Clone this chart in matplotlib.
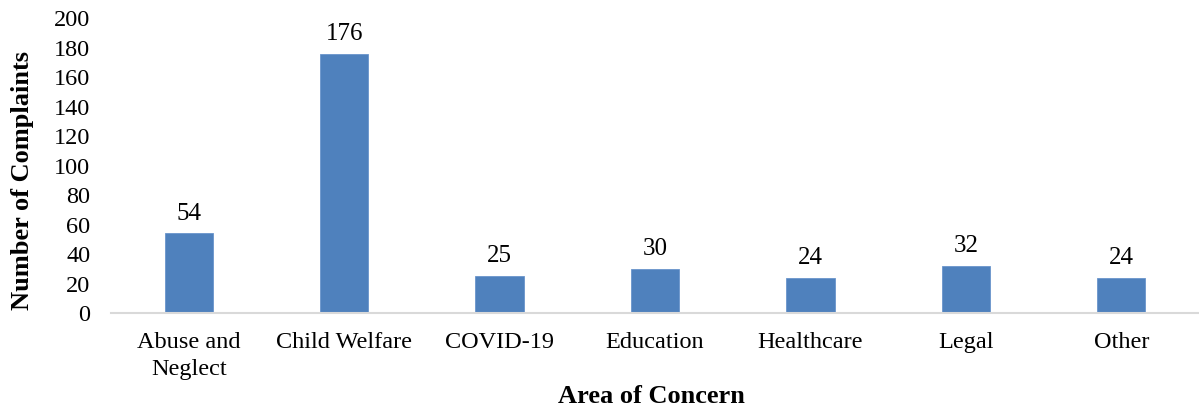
import matplotlib
matplotlib.use("Agg")
import matplotlib.pyplot as plt

categories = ["Abuse and\nNeglect", "Child Welfare", "COVID-19", "Education",
              "Healthcare", "Legal", "Other"]
complaints = [54, 176, 25, 30, 24, 32, 24]
y_ticks = [0, 20, 40, 60, 80, 100, 120, 140, 160, 180, 200]

plt.rcParams["font.family"] = ["Liberation Serif", "DejaVu Serif"]

fig = plt.figure(figsize=(11.99, 4.13), dpi=100)
ax = fig.add_axes([0.0926, 0.242, 0.9074, 0.714])

x = range(len(categories))
bars = ax.bar(x, complaints, width=0.31, color="#4F81BD", edgecolor="#6A95CC", linewidth=0.6, zorder=2)
for b, v in zip(bars, complaints):
    ax.text(b.get_x() + b.get_width() / 2, v + 6, str(v), ha="center", va="bottom", fontsize=18)

ax.set_xlim(-0.5, len(categories) - 0.5)
ax.set_ylim(0, 200)
ax.set_yticks(y_ticks)
ax.set_xticks(list(x))
ax.set_xticklabels(categories, fontsize=17.5, linespacing=1.35)
ax.tick_params(axis="y", labelsize=17.5, length=0, pad=15)
ax.tick_params(axis="x", length=0, pad=14)
for s in ["top", "right", "left"]:
    ax.spines[s].set_visible(False)
ax.spines["bottom"].set_color("#D9D9D9")
ax.spines["bottom"].set_linewidth(1.5)

ax.set_ylabel("Number of Complaints", fontsize=19, fontweight="bold")
ax.set_xlabel("Area of Concern", fontsize=19, fontweight="bold")
# label positions in axes coordinates, matched to the reference layout
ax.yaxis.set_label_coords(-0.071, 0.45)
ax.xaxis.set_label_coords(0.497, -0.245)

fig.savefig("out.png", dpi=100)
